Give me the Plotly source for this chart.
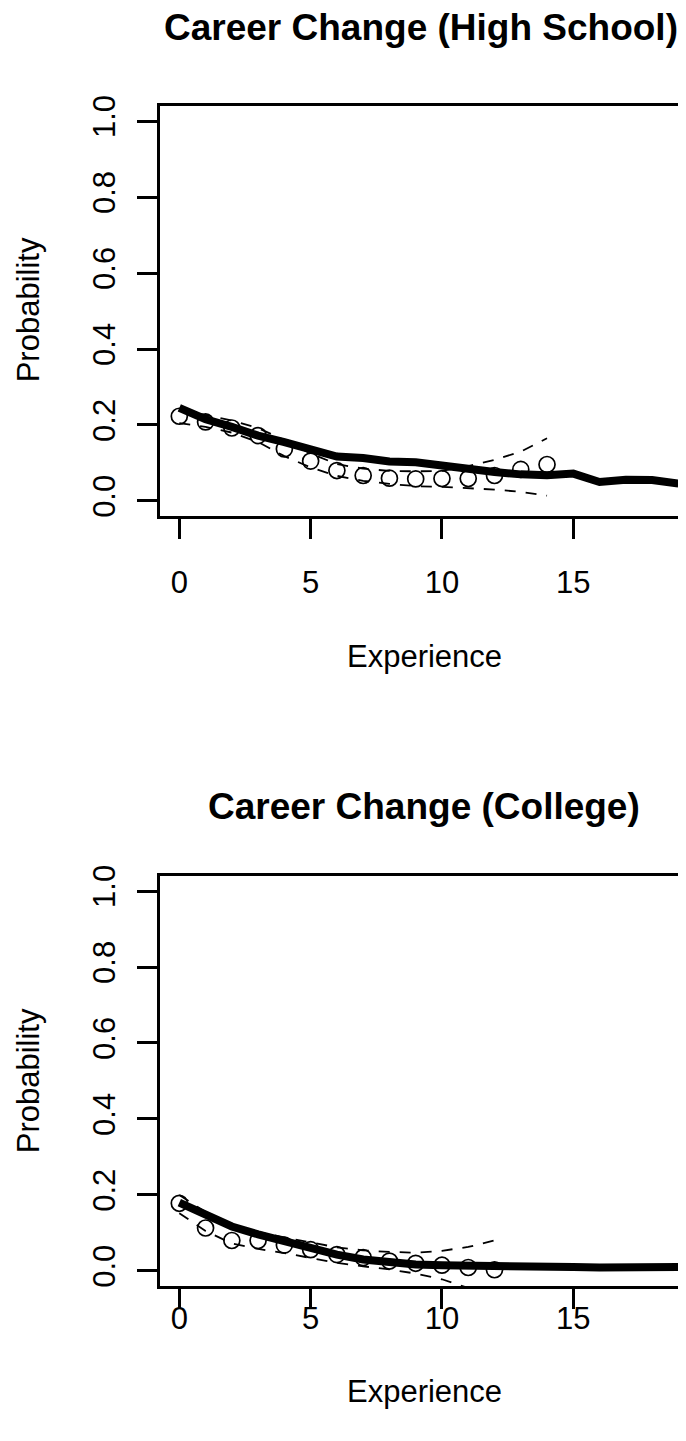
import plotly.graph_objects as go

# ---------------- data ----------------
experience_fit = list(range(20))
experience_obs_hs = list(range(15))
experience_obs_col = list(range(13))

hs_fit = [0.245, 0.215, 0.195, 0.172, 0.155, 0.135, 0.117, 0.113, 0.104, 0.102,
          0.092, 0.085, 0.076, 0.070, 0.068, 0.072, 0.050, 0.056, 0.055, 0.046]
hs_obs = [0.223, 0.208, 0.192, 0.172, 0.137, 0.105, 0.080, 0.067, 0.060, 0.058,
          0.059, 0.059, 0.067, 0.083, 0.096]
hs_upper = [0.240, 0.225, 0.212, 0.192, 0.160, 0.125, 0.097, 0.085, 0.079, 0.078,
            0.079, 0.092, 0.108, 0.130, 0.165]
hs_lower = [0.205, 0.195, 0.180, 0.155, 0.118, 0.088, 0.066, 0.053, 0.045, 0.039,
            0.037, 0.034, 0.030, 0.024, 0.014]

col_fit = [0.180, 0.148, 0.117, 0.096, 0.078, 0.061, 0.043, 0.030, 0.023, 0.017,
           0.015, 0.013, 0.013, 0.013, 0.011, 0.010, 0.009, 0.008, 0.008, 0.010]
col_obs = [0.178, 0.113, 0.080, 0.080, 0.068, 0.056, 0.043, 0.035, 0.026, 0.020,
           0.015, 0.009, 0.003]
col_upper = [0.200, 0.155, 0.122, 0.103, 0.088, 0.074, 0.062, 0.054, 0.050, 0.048,
             0.053, 0.063, 0.080]
col_lower = [0.152, 0.105, 0.072, 0.058, 0.047, 0.035, 0.021, 0.012, 0.004, -0.007,
             -0.022, -0.045, -0.065]

titles = ["Career Change (High School)", "Career Change (College)"]
x_label = "Experience"
y_label = "Probability"
x_ticks = [0, 5, 10, 15]
y_ticks = [0.0, 0.2, 0.4, 0.6, 0.8, 1.0]
y_ticktext = ["0.0", "0.2", "0.4", "0.6", "0.8", "1.0"]

# ---------------- figure ----------------
# The page body has an 8px margin; layout positions below are page pixels
OFF = 8
W, H = 686 - OFF, 1441 - OFF
FONT = "Liberation Sans, Arial, Helvetica, sans-serif"
BASE = 31
TITLE = 37


def px(xp):
    return (xp - OFF) / W


def py(yp):
    return 1 - (yp - OFF) / H


# per-panel page positions
box_top = [95.7, 872.7]
box_bot = [509.7, 1286.7]
title_y = [17, 803]
title_x = [421, 424]
xlab_y = [651, 1393]
ylab_y = [302, 1080]
xtick_standoff = [17, -17]
x_left = 160.0

fig = go.Figure()

panels = [
    (hs_fit, experience_obs_hs, hs_obs, hs_upper, hs_lower),
    (col_fit, experience_obs_col, col_obs, col_upper, col_lower),
]

for i, (fit, xo, obs, up, lo) in enumerate(panels):
    xa = "x" if i == 0 else "x2"
    ya = "y" if i == 0 else "y2"
    fig.add_trace(go.Scatter(x=xo, y=obs, mode="markers", xaxis=xa, yaxis=ya,
                             marker=dict(symbol="circle-open", size=16, color="black",
                                         line=dict(width=1.7, color="black")),
                             showlegend=False, hoverinfo="skip"))
    for band in (up, lo):
        fig.add_trace(go.Scatter(x=xo, y=band, mode="lines", xaxis=xa, yaxis=ya,
                                 line=dict(color="black", width=1.8, dash="11px,10px"),
                                 showlegend=False, hoverinfo="skip"))
    fig.add_trace(go.Scatter(x=experience_fit, y=fit, mode="lines", xaxis=xa, yaxis=ya,
                             line=dict(color="black", width=8),
                             showlegend=False, hoverinfo="skip"))

axis_common = dict(showgrid=False, zeroline=False, showline=True, linecolor="black",
                   linewidth=2.6, ticks="outside", ticklen=20, tickwidth=2.6,
                   tickcolor="black",
                   tickfont=dict(family=FONT, size=BASE, color="black"))

layout = dict(width=W, height=H, autosize=False,
              margin=dict(l=0, r=0, t=0, b=0, pad=0),
              paper_bgcolor="white", plot_bgcolor="white",
              showlegend=False)

for i in range(2):
    sfx = "" if i == 0 else "2"
    layout["xaxis" + sfx] = dict(axis_common, domain=[px(x_left), 1.0],
                                 range=[-0.735, 19.6 - OFF / 25.87], tickvals=x_ticks,
                                 mirror=True, anchor="y" + sfx,
                                 ticklabelstandoff=xtick_standoff[i])
    layout["yaxis" + sfx] = dict(axis_common, domain=[py(box_bot[i]), py(box_top[i])],
                                 range=[-0.04, 1.04],
                                 tickvals=y_ticks, ticktext=y_ticktext,
                                 tickangle=-90, mirror=False, anchor="x" + sfx,
                                 ticklabelstandoff=10)

fig.update_layout(**layout)

annotations = []
for i in range(2):
    annotations.append(dict(text="<b>%s</b>" % titles[i], x=px(title_x[i]), y=py(title_y[i]),
                            xref="paper", yref="paper", showarrow=False,
                            xanchor="center", yanchor="middle",
                            font=dict(family=FONT, size=TITLE, color="black")))
    annotations.append(dict(text=x_label, x=px(424), y=py(xlab_y[i]),
                            xref="paper", yref="paper", showarrow=False,
                            xanchor="center", yanchor="middle",
                            font=dict(family=FONT, size=BASE, color="black")))
    annotations.append(dict(text=y_label, x=px(28), y=py(ylab_y[i]),
                            xref="paper", yref="paper", showarrow=False,
                            xanchor="center", yanchor="middle", textangle=-90,
                            font=dict(family=FONT, size=BASE, color="black")))
fig.update_layout(annotations=annotations)

fig.write_html("out.html")
